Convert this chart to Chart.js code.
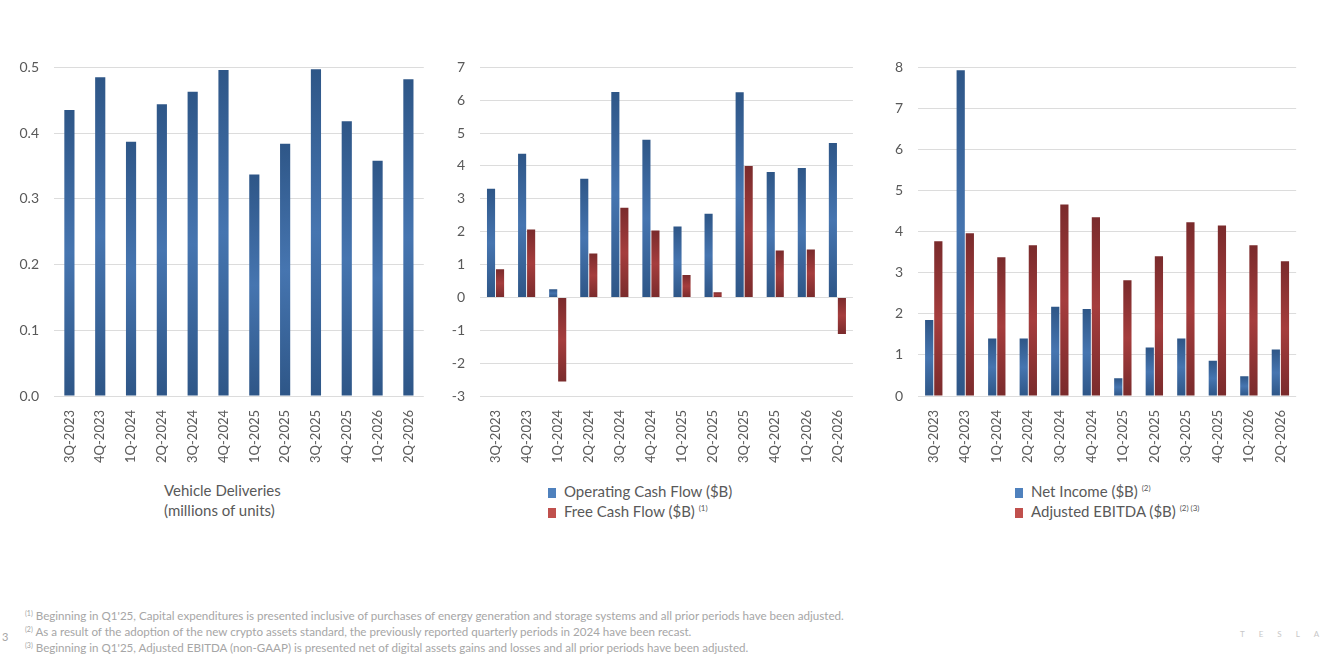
<!DOCTYPE html>
<html>
<head>
<meta charset="utf-8">
<script src="https://cdn.jsdelivr.net/npm/chart.js@4"></script>
<style>
  body { margin: 0; background: #fff; font-family: Lato, "Open Sans", sans-serif; color: #595959; }
  #page { position: relative; width: 1333px; height: 662px; overflow: hidden; }
  canvas { position: absolute; }
  .txt { position: absolute; font-size: 15px; line-height: 20px; white-space: nowrap; }
  .sw { display: inline-block; width: 8px; height: 10px; margin-right: 8px; vertical-align: -1px; }
  sup { font-size: 8px; vertical-align: 6px; line-height: 0; }
  .foot { position: absolute; left: 25px; font-size: 11.6px; color: #a6a6a6; white-space: nowrap; line-height: 14px; }
  .foot sup { font-size: 7px; vertical-align: 4px; }
</style>
</head>
<body>
<div id="page">
  <canvas id="c1" width="430" height="432" style="left:0px;top:44px"></canvas>
  <canvas id="c2" width="419" height="432" style="left:440px;top:44px"></canvas>
  <canvas id="c3" width="422" height="432" style="left:880px;top:44px"></canvas>

  <div class="txt" style="left:164px;top:480px">Vehicle Deliveries<br>(millions of units)</div>
  <div class="txt" style="left:548px;top:481px"><span class="sw" style="background:#4f81bd"></span>Operating Cash Flow ($B)<br><span class="sw" style="background:#c0504d"></span>Free Cash Flow ($B) <sup>(1)</sup></div>
  <div class="txt" style="left:1015px;top:481px"><span class="sw" style="background:#4f81bd"></span>Net Income ($B) <sup>(2)</sup><br><span class="sw" style="background:#c0504d"></span>Adjusted EBITDA ($B) <sup>(2) (3)</sup></div>

  <div class="foot" style="top:609px"><sup>(1)</sup> Beginning in Q1'25, Capital expenditures is presented inclusive of purchases of energy generation and storage systems and all prior periods have been adjusted.</div>
  <div class="foot" style="top:625px"><sup>(2)</sup> As a result of the adoption of the new crypto assets standard, the previously reported quarterly periods in 2024 have been recast.</div>
  <div class="foot" style="top:641px"><sup>(3)</sup> Beginning in Q1'25, Adjusted EBITDA (non-GAAP) is presented net of digital assets gains and losses and all prior periods have been adjusted.</div>
  <div class="foot" style="left:2px;top:630px;font-size:11px">3</div>
  <div class="foot" style="left:1240px;top:627px;font-size:8px;letter-spacing:14px;color:#c8c8c8">TESLA</div>
</div>
<script>
const quarters = ["3Q-2023", "4Q-2023", "1Q-2024", "2Q-2024", "3Q-2024", "4Q-2024",
                  "1Q-2025", "2Q-2025", "3Q-2025", "4Q-2025", "1Q-2026", "2Q-2026"];

// millions of units
const deliveries = [0.435, 0.485, 0.387, 0.444, 0.463, 0.496, 0.337, 0.384, 0.497, 0.418, 0.358, 0.482];

// $B
const operatingCashFlow = [3.31, 4.37, 0.25, 3.61, 6.25, 4.80, 2.16, 2.55, 6.24, 3.82, 3.94, 4.70];
const freeCashFlow = [0.86, 2.07, -2.56, 1.34, 2.73, 2.04, 0.68, 0.16, 4.00, 1.43, 1.46, -1.11];

const netIncome = [1.85, 7.93, 1.40, 1.40, 2.17, 2.12, 0.43, 1.18, 1.40, 0.86, 0.48, 1.13];
const adjEbitda = [3.77, 3.96, 3.38, 3.67, 4.66, 4.35, 2.82, 3.40, 4.23, 4.15, 3.67, 3.28];

const BLUE = ["#2e5687", "#4675b0"];
const RED = ["#7a2b2c", "#a53d3d"];

// excel style fill: dark at both ends of the bar, lighter in the middle
function barFill(cols) {
  return function (ctx) {
    const chart = ctx.chart;
    const y = chart.scales && chart.scales.y;
    if (ctx.type !== "data" || !chart.chartArea || !y) return cols[0];
    const top = y.getPixelForValue(ctx.raw);
    const base = y.getPixelForValue(0);
    if (Math.abs(top - base) < 2) return cols[1];
    const g = chart.ctx.createLinearGradient(0, top, 0, base);
    g.addColorStop(0, cols[0]);
    g.addColorStop(0.5, cols[1]);
    g.addColorStop(1, cols[0]);
    return g;
  };
}

const tickFont = { family: "Lato, 'Open Sans', sans-serif", size: 14 };

function makeOptions(axisW, yMin, yMax, step, decimals) {
  return {
    responsive: false,
    animation: false,
    devicePixelRatio: 1,
    layout: { padding: { top: 12, left: 0, right: 0, bottom: 0 } },
    plugins: { legend: { display: false }, tooltip: { enabled: false } },
    scales: {
      x: {
        grid: { display: false },
        border: { display: false },
        ticks: { color: "#595959", font: { family: tickFont.family, size: 13 }, minRotation: 90, maxRotation: 90, padding: 6 },
        afterFit: s => { s.height = 80; }
      },
      y: {
        min: yMin, max: yMax,
        grid: { color: "#dcdcdc", drawTicks: false },
        border: { display: false },
        ticks: {
          stepSize: step, color: "#595959", font: tickFont, padding: 15,
          callback: v => Number(v).toFixed(decimals)
        },
        afterFit: s => { s.width = axisW; }
      }
    }
  };
}

new Chart(document.getElementById("c1"), {
  type: "bar",
  data: {
    labels: quarters,
    datasets: [{ label: "Vehicle Deliveries", data: deliveries, backgroundColor: barFill(BLUE),
                 categoryPercentage: 0.33, barPercentage: 1 }]
  },
  options: makeOptions(54, 0, 0.5, 0.1, 1)
});

new Chart(document.getElementById("c2"), {
  type: "bar",
  data: {
    labels: quarters,
    datasets: [
      { label: "Operating Cash Flow ($B)", data: operatingCashFlow, backgroundColor: barFill(BLUE),
        categoryPercentage: 0.58, barPercentage: 0.9 },
      { label: "Free Cash Flow ($B)", data: freeCashFlow, backgroundColor: barFill(RED),
        categoryPercentage: 0.58, barPercentage: 0.9 }
    ]
  },
  options: makeOptions(40, -3, 7, 1, 0)
});

new Chart(document.getElementById("c3"), {
  type: "bar",
  data: {
    labels: quarters,
    datasets: [
      { label: "Net Income ($B)", data: netIncome, backgroundColor: barFill(BLUE),
        categoryPercentage: 0.58, barPercentage: 0.9 },
      { label: "Adjusted EBITDA ($B)", data: adjEbitda, backgroundColor: barFill(RED),
        categoryPercentage: 0.58, barPercentage: 0.9 }
    ]
  },
  options: makeOptions(38, 0, 8, 1, 0)
});
</script>
</body>
</html>
